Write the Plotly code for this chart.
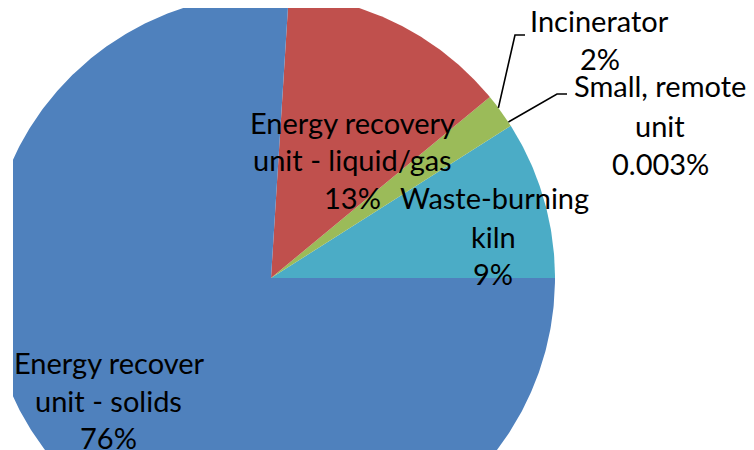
import numpy as np
import plotly.graph_objects as go

# Data (counter-clockwise from 3 o'clock)
categories = ["Waste-burning kiln", "Small, remote unit", "Incinerator",
              "Energy recovery unit - liquid/gas", "Energy recover unit - solids"]
values = [9, 0.003, 2, 13, 76]
pct_labels = ["9%", "0.003%", "2%", "13%", "76%"]
label_lines = [["Waste-burning", "kiln"], ["Small, remote", "unit"], ["Incinerator"],
               ["Energy recovery", "unit - liquid/gas"], ["Energy recover", "unit - solids"]]
colors = ["#4BACC6", "#8064A2", "#9BBB59", "#C0504D", "#4F81BD"]

# page has an 8px body margin; coordinates below are window pixels
OFF = 8
W, H = 754 - OFF, 450 - OFF
CX, CY, R = 271, 278, 284

fig = go.Figure()
total = sum(values)
start = 0.0
angles = []
for cat, v, col in zip(categories, values, colors):
    sweep = 360.0 * v / total
    a0, a1 = start, start + sweep
    angles.append((a0, a1))
    th = np.radians(np.linspace(a0, a1, max(3, int(sweep * 2) + 2)))
    xs = np.concatenate([[CX], CX + R * np.cos(th), [CX]])
    ys = np.concatenate([[CY], CY - R * np.sin(th), [CY]])
    fig.add_trace(go.Scatter(x=xs, y=ys, fill="toself", fillcolor=col, mode="lines",
                             line=dict(width=0, color=col), hoverinfo="text",
                             text=cat, showlegend=False))
    start = a1

# label placements (pixel centres of each text line)
label_pos = [
    [(494, 197), (493, 236), (493, 273)],
    [(660, 85), (660, 125), (660, 163)],
    [(599, 20), (600, 58)],
    [(352, 122), (352, 159), (352, 197)],
    [(109, 362), (108, 400), (108, 437)],
]
font = dict(family="Lato, Carlito, sans-serif", size=29, color="#000000")
for lines, pct, pos in zip(label_lines, pct_labels, label_pos):
    for txt, (x, y) in zip(lines + [pct], pos):
        fig.add_annotation(x=x, y=y, xref="x", yref="y", text=txt, showarrow=False,
                           font=font, xanchor="center", yanchor="middle")

# leader lines for small slices
def edge(a):
    t = np.radians(a)
    return CX + R * np.cos(t), CY - R * np.sin(t)

inc_mid = (angles[2][0] + angles[2][1]) / 2
sx, sy = edge(inc_mid + 0.8)
fig.add_trace(go.Scatter(x=[sx, 515, 525], y=[sy, 35, 35], mode="lines",
                         line=dict(color="black", width=1.6), hoverinfo="skip", showlegend=False))
sx, sy = edge(angles[1][0] + 0.9)
fig.add_trace(go.Scatter(x=[sx, 557, 567], y=[sy, 94, 94], mode="lines",
                         line=dict(color="black", width=1.6), hoverinfo="skip", showlegend=False))

fig.update_layout(
    width=W, height=H,
    margin=dict(l=13 - OFF, r=0, t=0, b=0),
    paper_bgcolor="white", plot_bgcolor="white",
    xaxis=dict(range=[13, 754], visible=False, fixedrange=True),
    yaxis=dict(range=[450, OFF], visible=False, fixedrange=True),
)
fig.write_html("out.html")
